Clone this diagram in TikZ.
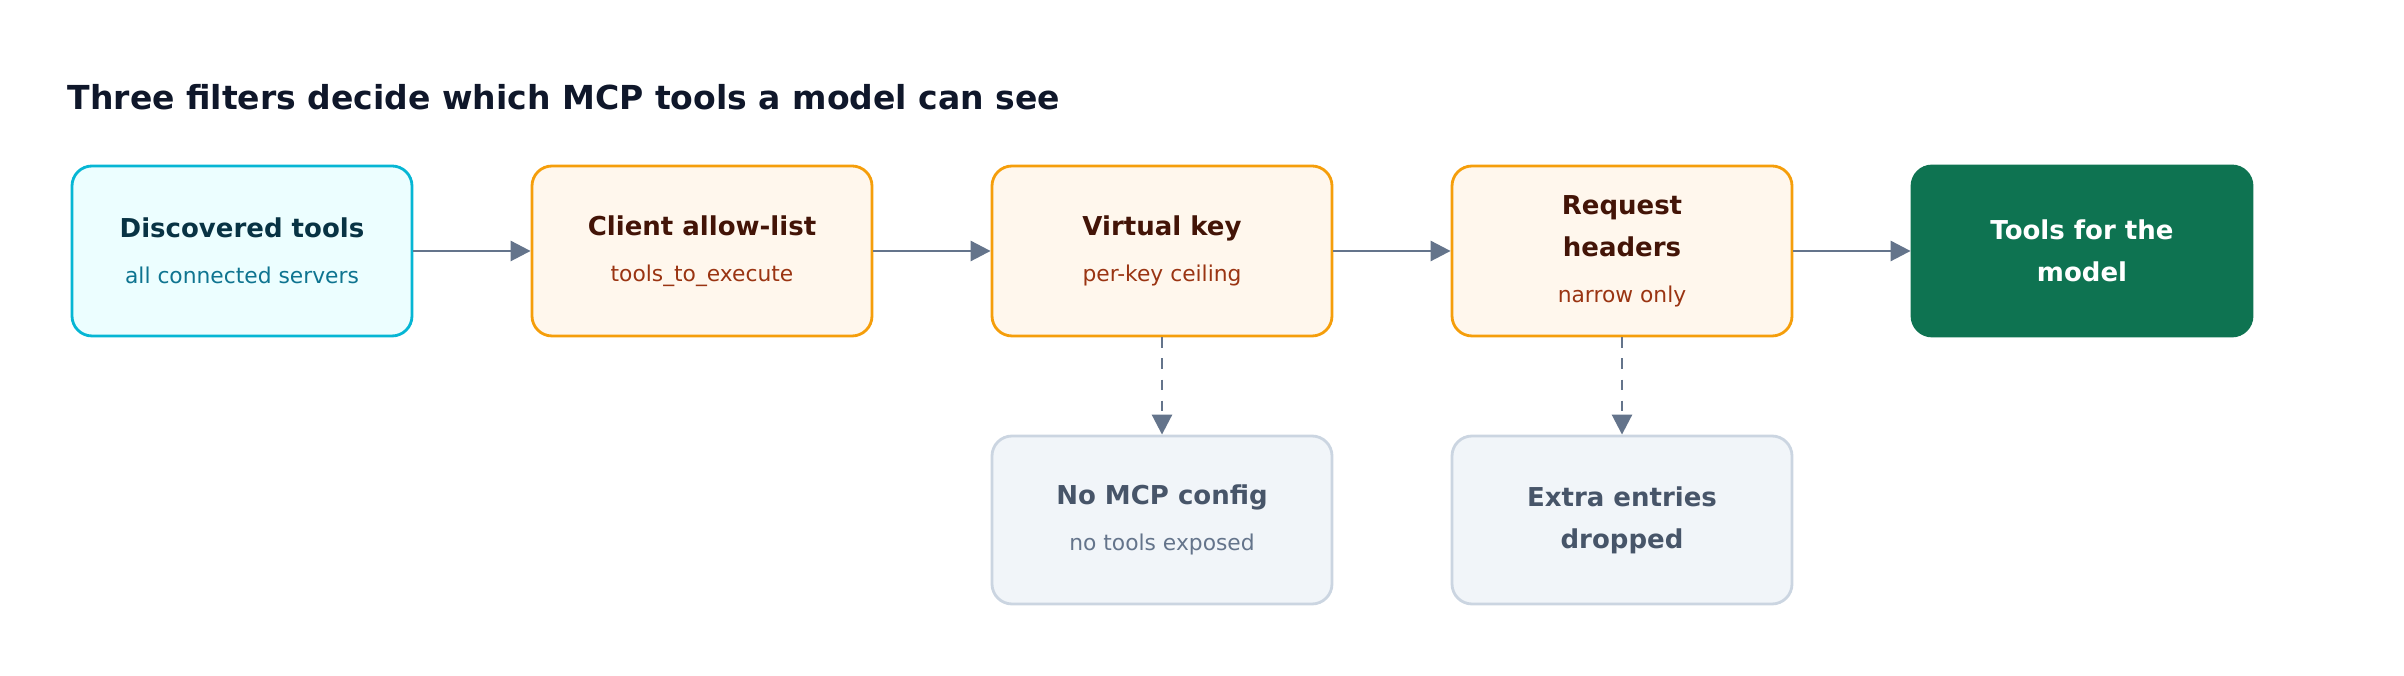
\documentclass[tikz,border=0pt]{standalone}
\usepackage{fontspec}
\setmainfont{DejaVu Sans}
\usetikzlibrary{positioning,arrows.meta}
\definecolor{cyanfill}{HTML}{ECFEFF}
\definecolor{cyandraw}{HTML}{06B6D4}
\definecolor{cyanhead}{HTML}{083344}
\definecolor{cyansub}{HTML}{0E7490}
\definecolor{orfill}{HTML}{FFF7ED}
\definecolor{ordraw}{HTML}{F59E0B}
\definecolor{orhead}{HTML}{431407}
\definecolor{orsub}{HTML}{9A3412}
\definecolor{gyfill}{HTML}{F1F5F9}
\definecolor{gydraw}{HTML}{CBD5E1}
\definecolor{gyhead}{HTML}{475569}
\definecolor{gysub}{HTML}{64748B}
\definecolor{grfill}{HTML}{0E7351}
\definecolor{titlec}{HTML}{0F172A}
\definecolor{arrowc}{HTML}{64748B}
\newcommand{\boxhd}[1]{{\fontsize{7.4pt}{8.6pt}\selectfont\bfseries #1}}
\newcommand{\boxsub}[1]{{\fontsize{6.2pt}{7.4pt}\selectfont #1}}

\begin{document}
\begin{tikzpicture}[
    box/.style={rounded corners=0.2cm, minimum width=3.4cm, minimum height=1.7cm, align=center, line width=0.8pt, inner sep=2pt},
    cy/.style={box, draw=cyandraw, fill=cyanfill},
    ora/.style={box, draw=ordraw, fill=orfill},
    gy/.style={box, draw=gydraw, fill=gyfill, minimum height=1.68cm},
    gr/.style={box, draw=grfill, fill=grfill, text=white},
    a/.style={-{Triangle[length=0.2cm,width=0.2cm]}, draw=arrowc, line width=0.8pt}]
    \useasboundingbox (0,0) rectangle (24.04,6.76);
    \node[anchor=base west, inner sep=0pt, text=titlec, font=\fontsize{9.4pt}{11pt}\selectfont\bfseries] (title) at (0.67,5.66) {Three filters decide which MCP tools a model can see};

    \node[cy] (disc) at (2.42,4.25) {\textcolor{cyanhead}{\boxhd{Discovered tools}}\\[1pt]\textcolor{cyansub}{\boxsub{all connected servers}}};
    \node[ora] (client) at (7.02,4.25) {\textcolor{orhead}{\boxhd{Client allow-list}}\\[1pt]\textcolor{orsub}{\boxsub{tools\_to\_execute}}};
    \node[ora] (vkey) at (11.62,4.25) {\textcolor{orhead}{\boxhd{Virtual key}}\\[1pt]\textcolor{orsub}{\boxsub{per-key ceiling}}};
    \node[ora] (req) at (16.22,4.25) {\textcolor{orhead}{\boxhd{Request}}\\\textcolor{orhead}{\boxhd{headers}}\\[1pt]\textcolor{orsub}{\boxsub{narrow only}}};
    \node[gr] (model) at (20.82,4.25) {\boxhd{Tools for the}\\\boxhd{model}};

    \node[gy] (nocfg) at (11.62,1.56) {\textcolor{gyhead}{\boxhd{No MCP config}}\\[1pt]\textcolor{gysub}{\boxsub{no tools exposed}}};
    \node[gy] (extra) at (16.22,1.56) {\textcolor{gyhead}{\boxhd{Extra entries}}\\\textcolor{gyhead}{\boxhd{dropped}}};

    \draw[a] (disc) -- (client);
    \draw[a] (client) -- (vkey);
    \draw[a] (vkey) -- (req);
    \draw[a] (req) -- (model);
    \draw[a, dashed] (vkey) -- (nocfg);
    \draw[a, dashed] (req) -- (extra);
\end{tikzpicture}
\end{document}
